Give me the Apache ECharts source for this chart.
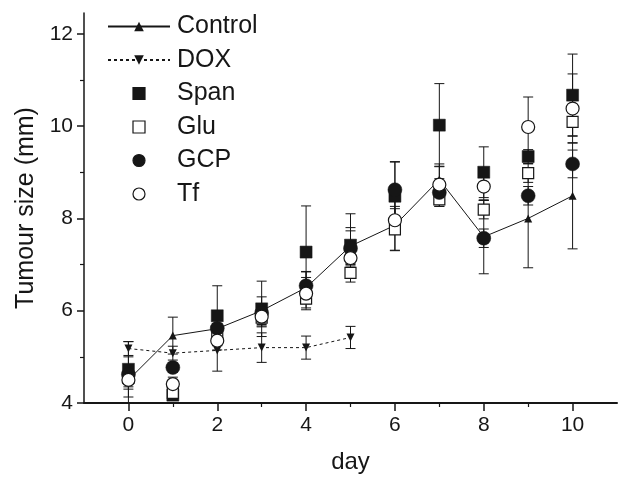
<!DOCTYPE html>
<html>
<head>
<meta charset="utf-8">
<script src="https://cdn.jsdelivr.net/npm/echarts@6/dist/echarts.min.js"></script>
<style>
  html, body { margin: 0; padding: 0; background: #fff; }
  #chart { width: 618px; height: 479px; }
</style>
</head>
<body>
<div id="chart"></div>
<script>
// Tumour size over time for each treatment group
const days = [0, 1, 2, 3, 4, 5, 6, 7, 8, 9, 10];
const doxDays = [0, 1, 2, 3, 4, 5];

const controlSize = [4.50, 5.46, 5.61, 6.00, 6.50, 7.40, 7.85, 8.84, 7.60, 8.00, 8.49];
const controlErr  = [0.20, 0.40, 0.30, 0.30, 0.35, 0.40, 0.55, 0.34, 0.80, 1.07, 1.15];

const doxSize = [5.18, 5.08, 5.14, 5.20, 5.20, 5.42];
const doxErr  = [0.15, 0.15, 0.45, 0.32, 0.25, 0.24];

const spanSize = [4.73, 4.17, 5.89, 6.04, 7.27, 7.42, 8.48, 10.02, 9.00, 9.34, 10.67];
const spanErr  = [0.60, 0.10, 0.65, 0.60, 1.00, 0.68, 0.75, 0.90, 0.55, 0.15, 0.89];

const gluSize = [4.55, 4.22, 5.50, 5.85, 6.26, 6.82, 7.76, 8.41, 8.19, 8.98, 10.09];
const gluErr  = [0.20, 0.10, 0.20, 0.20, 0.20, 0.20, 0.45, 0.15, 0.20, 0.20, 0.30];

const gcpSize = [4.62, 4.77, 5.62, 5.95, 6.54, 7.35, 8.62, 8.56, 7.57, 8.49, 9.18];
const gcpErr  = [0.10, 0.10, 0.10, 0.15, 0.30, 0.38, 0.60, 0.30, 0.20, 0.20, 0.30];

const tfSize = [4.50, 4.41, 5.35, 5.87, 6.37, 7.14, 7.96, 8.73, 8.69, 9.98, 10.38];
const tfErr  = [0.50, 0.15, 0.20, 0.20, 0.35, 0.30, 0.30, 0.40, 0.30, 0.65, 0.75];

const xMajor = [0, 2, 4, 6, 8, 10];
const xMinor = [1, 3, 5, 7, 9];
const yMajor = [4, 6, 8, 10, 12];
const yMinor = [5, 7, 9, 11];

const FONT = '"Liberation Sans", Arial, Helvetica, sans-serif';
const INK = '#161616';
// square drawn as a path so the legend keeps it square
const SQUARE = 'path://M0,0H10V10H0Z';

function pairs(xs, ys) { return ys.map((v, i) => [xs[i], v]); }

// Vertical error bars with end caps
function errorBars(name, xs, ys, errs) {
  return {
    type: 'custom',
    name: name + ' SD',
    silent: true,
    z: 1,
    xAxisIndex: 0,
    yAxisIndex: 0,
    data: ys.map((v, i) => [xs[i], v, errs[i]]),
    encode: { x: 0, y: 1 },
    renderItem(params, api) {
      const x = api.value(0), y = api.value(1), e = api.value(2);
      const hi = api.coord([x, y + e]);
      const lo = api.coord([x, y - e]);
      const half = 5;
      const st = { stroke: INK, lineWidth: 1 };
      return {
        type: 'group',
        children: [
          { type: 'line', shape: { x1: hi[0], y1: hi[1], x2: lo[0], y2: lo[1] }, style: st },
          { type: 'line', shape: { x1: lo[0] - half, y1: lo[1], x2: lo[0] + half, y2: lo[1] }, style: st },
          { type: 'line', shape: { x1: hi[0] - half, y1: hi[1], x2: hi[0] + half, y2: hi[1] }, style: st }
        ]
      };
    }
  };
}

const chart = echarts.init(document.getElementById('chart'), null, { renderer: 'canvas' });

const option = {
  backgroundColor: '#fff',
  animation: false,
  textStyle: { fontFamily: FONT, color: INK },
  grid: { left: 84, right: 1, top: 13, bottom: 74, containLabel: false },
  legend: {
    data: ['Control', 'DOX', 'Span', 'Glu', 'GCP', 'Tf'],
    orient: 'vertical',
    left: 107,
    top: 14,
    padding: 0,
    itemWidth: 62,
    itemHeight: 12,
    itemGap: 8.5,
    selectedMode: false,
    symbolKeepAspect: true,
    itemStyle: { borderWidth: 1.2 },
    textStyle: { fontSize: 25, color: INK, fontFamily: FONT, padding: [0, 0, 0, 2] }
  },
  xAxis: [
    {
      type: 'value', min: -1, max: 11,
      name: 'day', nameLocation: 'middle', nameGap: 47,
      nameTextStyle: { fontSize: 24, color: INK, fontFamily: FONT },
      axisLine: { onZero: false, lineStyle: { color: INK, width: 2 } },
      axisTick: { customValues: xMajor, length: 8, lineStyle: { color: INK, width: 1.5 } },
      axisLabel: { customValues: xMajor, fontSize: 21, color: INK, margin: 12, fontFamily: FONT },
      splitLine: { show: false }
    },
    {
      type: 'value', min: -1, max: 11, position: 'bottom',
      axisLine: { show: false, onZero: false },
      axisTick: { customValues: xMinor, length: 4, lineStyle: { color: INK, width: 1.2 } },
      axisLabel: { show: false },
      splitLine: { show: false }
    }
  ],
  yAxis: [
    {
      type: 'value', min: 4, max: 12.45,
      name: 'Tumour size (mm)', nameLocation: 'middle', nameGap: 44,
      nameTextStyle: { fontSize: 25, color: INK, fontFamily: FONT },
      axisLine: { show: true, onZero: false, lineStyle: { color: INK, width: 1.5 } },
      axisTick: { show: true, customValues: yMajor, length: 7, lineStyle: { color: INK, width: 1.5 } },
      axisLabel: { customValues: yMajor, fontSize: 21, color: INK, margin: 11, fontFamily: FONT },
      splitLine: { show: false }
    },
    {
      type: 'value', min: 4, max: 12.45, position: 'left',
      axisLine: { show: false, onZero: false },
      axisTick: { show: true, customValues: yMinor, length: 4, lineStyle: { color: INK, width: 1.2 } },
      axisLabel: { show: false },
      splitLine: { show: false }
    }
  ],
  series: [
    errorBars('Control', days, controlSize, controlErr),
    errorBars('DOX', doxDays, doxSize, doxErr),
    errorBars('Span', days, spanSize, spanErr),
    errorBars('Glu', days, gluSize, gluErr),
    errorBars('GCP', days, gcpSize, gcpErr),
    errorBars('Tf', days, tfSize, tfErr),
    {
      name: 'Control', type: 'line', z: 2,
      data: pairs(days, controlSize),
      symbol: 'triangle', symbolSize: 8,
      itemStyle: { color: INK },
      lineStyle: { color: INK, width: 1 }
    },
    {
      name: 'DOX', type: 'line', z: 2,
      data: pairs(doxDays, doxSize),
      symbol: 'triangle', symbolRotate: 180, symbolSize: 8,
      itemStyle: { color: INK },
      lineStyle: { color: INK, width: 1, type: [3, 3] }
    },
    {
      name: 'Span', type: 'scatter', z: 3,
      data: pairs(days, spanSize),
      symbol: SQUARE, symbolSize: 12, symbolKeepAspect: true,
      itemStyle: { color: INK, borderColor: INK, borderWidth: 0.5, opacity: 1 }
    },
    {
      name: 'Glu', type: 'scatter', z: 3,
      data: pairs(days, gluSize),
      symbol: SQUARE, symbolSize: 11, symbolKeepAspect: true,
      itemStyle: { color: '#fff', borderColor: INK, borderWidth: 1.2, opacity: 1 }
    },
    {
      name: 'GCP', type: 'scatter', z: 3,
      data: pairs(days, gcpSize),
      symbol: 'circle', symbolSize: 14, symbolKeepAspect: true,
      itemStyle: { color: INK, borderColor: INK, borderWidth: 0.5, opacity: 1 }
    },
    {
      name: 'Tf', type: 'scatter', z: 3,
      data: pairs(days, tfSize),
      symbol: 'circle', symbolSize: 13, symbolKeepAspect: true,
      itemStyle: { color: '#fff', borderColor: INK, borderWidth: 1.2, opacity: 1 }
    }
  ]
};

chart.setOption(option);
</script>
</body>
</html>
